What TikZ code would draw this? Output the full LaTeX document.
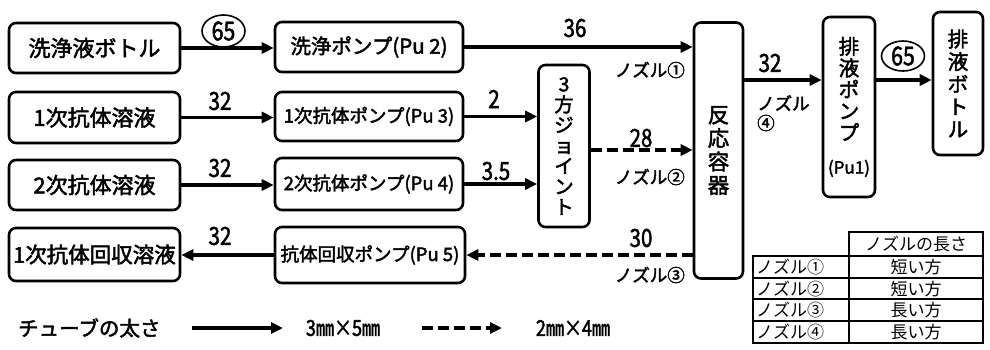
\documentclass[tikz,border=0pt]{standalone}
\usepackage{fontspec}
\setmainfont{Noto Sans CJK JP}
\newfontfamily\bfj{Noto Sans CJK JP}[FakeBold=2.2]
\newfontfamily\numf{Noto Sans CJK JP}[FakeBold=1.8, FakeStretch=0.82]
\usetikzlibrary{arrows.meta,shapes.geometric}
\newcommand\myfs[2]{\fontsize{#1}{#2}\selectfont}
\begin{document}
\begin{tikzpicture}[x=1pt,y=-1pt,
  box/.style={draw, line width=2.6pt, rounded corners=7pt, inner sep=0pt, align=center},
  src/.style={box, minimum width=171pt, font=\bfj\myfs{22}{22}},
  pump/.style={box, minimum width=188pt, font=\bfj\myfs{18.5}{18.5}},
  flow/.style={line width=3.3pt, -{Triangle[length=12pt,width=11pt]}},
  dflow/.style={flow, dash pattern=on 11pt off 5pt},
  num/.style={font=\numf\myfs{25}{25}, inner sep=0pt},
  noz/.style={font=\bfj\myfs{17.5}{17.5}, inner sep=0pt},
  circ/.style={draw, ellipse, line width=1.6pt, inner sep=0pt, font=\numf\myfs{26}{26}},
  tbl/.style={line width=2pt},
  ttext/.style={font=\myfs{17}{17}, inner sep=0pt},
]
\useasboundingbox (0,0) rectangle (990,349);

% source boxes
\node[src, minimum height=50pt] (wb) at (94.5,48) {洗浄液ボトル};
\node[src, minimum height=51pt] (ab1) at (94.5,117.5) {1次抗体溶液};
\node[src, minimum height=50pt] (ab2) at (94.5,185) {2次抗体溶液};
\node[src, minimum height=53pt, font=\bfj\myfs{21.5}{21.5}] (rec) at (94.5,254.5) {1次抗体回収溶液};

% pumps
\node[pump, minimum height=50pt, font=\bfj\myfs{20.5}{20.5}] (p2) at (369,47) {洗浄ポンプ(Pu 2)};
\node[pump, minimum height=49pt] (p3) at (369,116.5) {1次抗体ポンプ(Pu 3)};
\node[pump, minimum height=52pt] (p4) at (369,184) {2次抗体ポンプ(Pu 4)};
\node[pump, minimum width=190pt, minimum height=56pt] (p5) at (370,255) {抗体回収ポンプ(Pu 5)};

% vertical boxes
\node[box, minimum width=51pt, minimum height=162pt, font=\bfj\myfs{19.5}{20.5}] (j3) at (564,146) {3\\方\\ジ\\ョ\\イ\\ン\\ト};
\node[box, minimum width=49pt, minimum height=256pt, font=\bfj\myfs{21.5}{23.5}] (rv) at (718.5,150.5) {反\\応\\容\\器};
\node[box, minimum width=52pt, minimum height=180pt, font=\bfj\myfs{20.5}{21.5}] (dp) at (849,107) {排\\液\\ポ\\ン\\プ\\[12pt]{\myfs{17}{17}(Pu1)}};
\node[box, minimum width=50pt, minimum height=143pt, font=\bfj\myfs{20.5}{22.5}] (db) at (958,83.5) {排\\液\\ボ\\ト\\ル};

% helper levels
\coordinate (l2) at (0,150);
\coordinate (l4) at (0,80);

% connectors
\draw[flow] (wb.east) -- (wb.east -| p2.west);
\draw[flow] (p2.east) -- (p2.east -| rv.west);
\draw[flow] (ab1.east) -- (ab1.east -| p3.west);
\draw[flow] (p3.east) -- (p3.east -| j3.west);
\draw[flow] (ab2.east) -- (ab2.east -| p4.west);
\draw[flow] (p4.east) -- (p4.east -| j3.west);
\draw[dflow] (j3.east |- l2) -- (rv.west |- l2);
\draw[dflow] (rv.west |- p5.east) -- (p5.east);
\draw[flow] (p5.west) -- (p5.west -| rec.east);
\draw[flow] (rv.east |- l4) -- (dp.west |- l4);
\draw[flow] (dp.east |- l4) -- (db.west |- l4);

% labels
\node[circ, minimum width=43pt, minimum height=32pt] (c1) at (223.5,31) {65};
\node[circ, minimum width=43pt, minimum height=30pt] (c2) at (903,56) {65};
\node[num] (n36) at (575,28) {36};
\node[num] (n2) at (494,99) {2};
\node[num] (n35) at (496,171) {3.5};
\node[num] (n28) at (641,138) {28};
\node[num] (n30) at (641,238) {30};
\node[num] (n32a) at (220,101) {32};
\node[num] (n32b) at (220,168) {32};
\node[num] (n32c) at (220,236) {32};
\node[num] (n32d) at (770,63) {32};

\node[noz, anchor=east] (z1) at (685,70) {ノズル①};
\node[noz, anchor=east] (z2) at (685,177) {ノズル②};
\node[noz, anchor=east] (z3) at (685,275) {ノズル③};
\node[noz, anchor=west] (z4a) at (757,103) {ノズル};
\node[noz, anchor=west] (z4b) at (757,123) {④};

% legend
\node[font=\bfj\myfs{20.5}{20.5}, inner sep=0pt, anchor=west] (lg) at (18,328) {チューブの太さ};
\coordinate (ls1) at (192,328);
\coordinate (ls2) at (283,328);
\coordinate (ld1) at (422,328);
\coordinate (ld2) at (502,328);
\draw[flow] (ls1) -- (ls2);
\draw[dflow] (ld1) -- (ld2);
\node[font=\numf\myfs{22}{22}, inner sep=0pt] (lt1) at (343,328) {3㎜×5㎜};
\node[font=\numf\myfs{22}{22}, inner sep=0pt] (lt2) at (573,328) {2㎜×4㎜};

% table
\draw[tbl] (849,232) rectangle (983,256);
\draw[tbl] (753,256) rectangle (983,343);
\draw[tbl] (753,277.7) -- (983,277.7);
\draw[tbl] (753,299.4) -- (983,299.4);
\draw[tbl] (753,321.1) -- (983,321.1);
\draw[tbl] (849,256) -- (849,343);
\node[ttext] (th) at (916,244) {ノズルの長さ};
\node[ttext, anchor=west] (r1a) at (756,266.9) {ノズル①};
\node[ttext, anchor=west] (r2a) at (756,288.6) {ノズル②};
\node[ttext, anchor=west] (r3a) at (756,310.3) {ノズル③};
\node[ttext, anchor=west] (r4a) at (756,332) {ノズル④};
\node[ttext] (r1b) at (916,266.9) {短い方};
\node[ttext] (r2b) at (916,288.6) {短い方};
\node[ttext] (r3b) at (916,310.3) {長い方};
\node[ttext] (r4b) at (916,332) {長い方};
\end{tikzpicture}
\end{document}
